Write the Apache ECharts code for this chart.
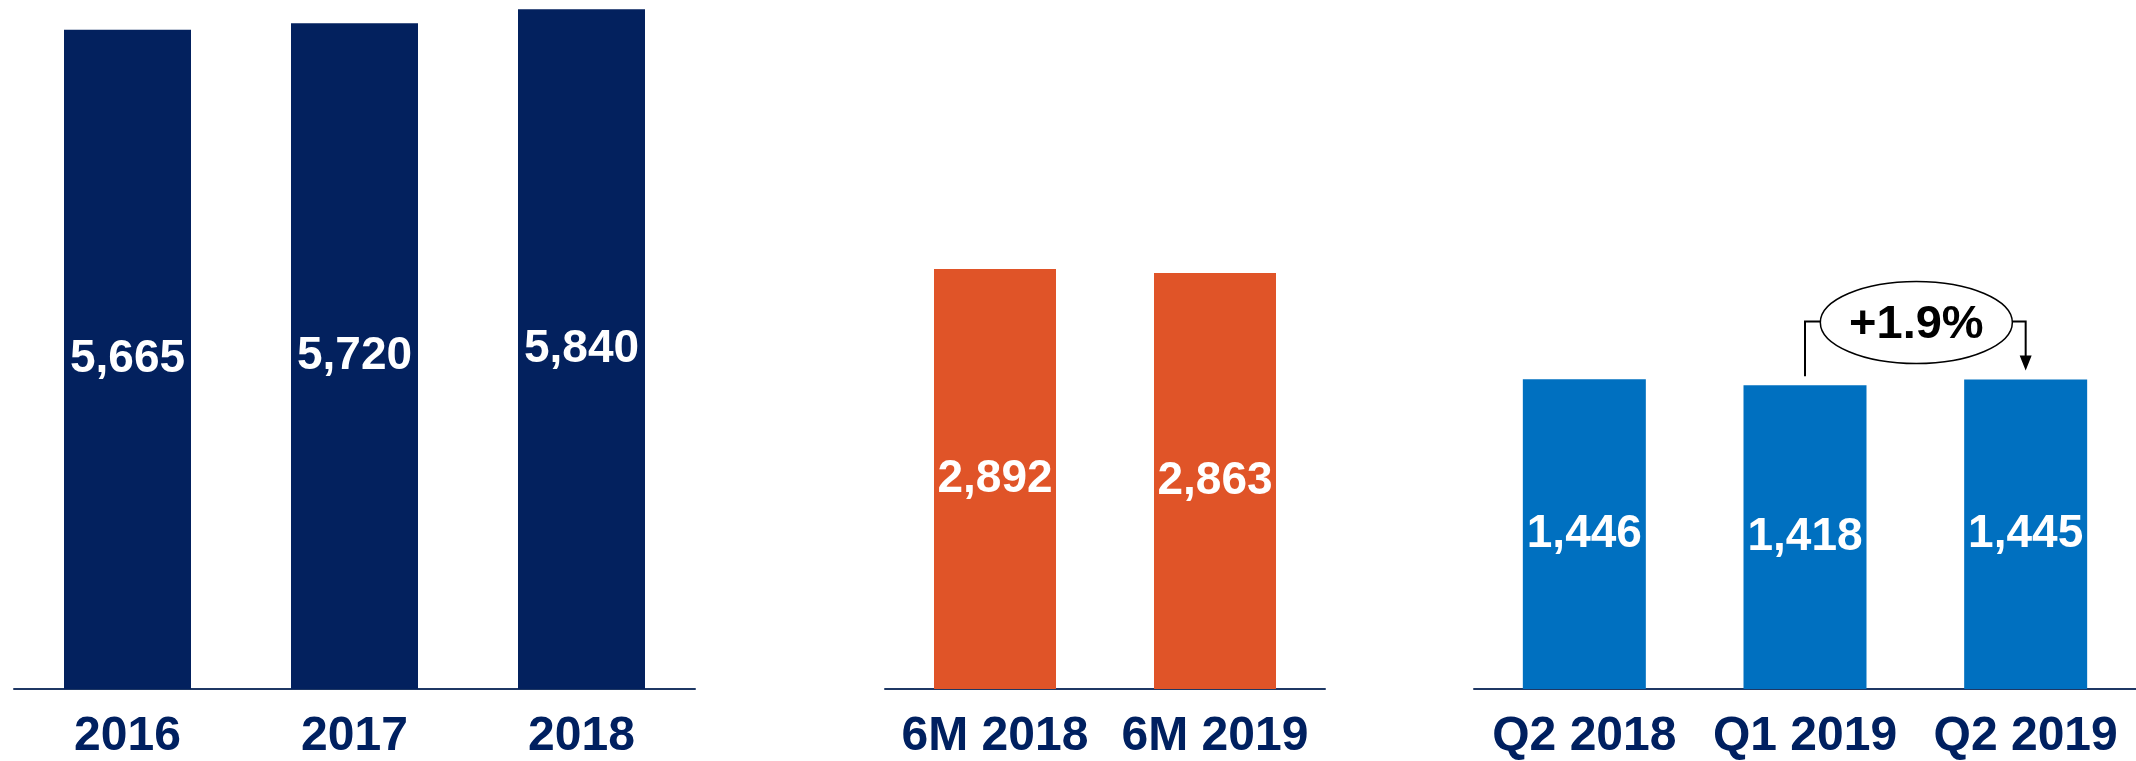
<!DOCTYPE html>
<html>
<head>
<meta charset="utf-8">
<script src="https://cdn.jsdelivr.net/npm/echarts@6/dist/echarts.min.js"></script>
<style>
  html, body { margin: 0; padding: 0; background: #ffffff; }
  #chart { width: 2136px; height: 761px; }
</style>
</head>
<body>
<div id="chart"></div>
<script>
// data
var yearCats = ['2016', '2017', '2018']
var yearVals = [5665, 5720, 5840]
var halfCats = ['6M 2018', '6M 2019']
var halfVals = [2892, 2863]
var quarterCats = ['Q2 2018', 'Q1 2019', 'Q2 2019']
var quarterVals = [1446, 1418, 1445]
var changeText = '+1.9%'

var FONT = '"Liberation Sans", Arial, sans-serif'
var NAVY = '#002060'

var myChart = echarts.init(document.getElementById('chart'))

function makeX(idx, cats) {
  return {
    type: 'category',
    gridIndex: idx,
    data: cats,
    axisLine: { show: true, lineStyle: { color: '#1F3864', width: 2 } },
    axisTick: { show: false },
    axisLabel: {
      color: NAVY,
      fontSize: 48,
      fontWeight: 'bold',
      fontFamily: FONT,
      margin: 24,
      interval: 0
    }
  }
}

function makeY(idx, max) {
  return { type: 'value', gridIndex: idx, min: 0, max: max, show: false }
}

function makeBar(idx, vals, color, width) {
  return {
    type: 'bar',
    xAxisIndex: idx,
    yAxisIndex: idx,
    data: vals,
    barWidth: width,
    itemStyle: { color: color },
    silent: true,
    label: {
      show: true,
      position: 'inside',
      color: '#ffffff',
      fontSize: 46,
      fontWeight: 'bold',
      fontFamily: FONT,
      formatter: function (p) {
        return p.value.toLocaleString('en-US')
      }
    }
  }
}

var option = {
  animation: false,
  backgroundColor: '#ffffff',
  grid: [
    { left: 14, width: 681, top: 0, height: 692 },
    { left: 885, width: 440, top: 0, height: 692 },
    { left: 1474, width: 664, top: 0, height: 692 }
  ],
  xAxis: [makeX(0, yearCats), makeX(1, halfCats), makeX(2, quarterCats)],
  yAxis: [makeY(0, 5920), makeY(1, 4743), makeY(2, 3217)],
  series: [
    makeBar(0, yearVals, '#03215E', 127),
    makeBar(1, halfVals, '#E05428', 122),
    makeBar(2, quarterVals, '#0070C0', 123)
  ]
}
myChart.setOption(option)

// bracket with the change between Q1 2019 and Q2 2019
var p1 = myChart.convertToPixel({ gridIndex: 2 }, [quarterCats[1], quarterVals[1]])
var p2 = myChart.convertToPixel({ gridIndex: 2 }, [quarterCats[2], quarterVals[2]])
var bracketY = Math.min(p1[1], p2[1]) - 58
var midX = (p1[0] + p2[0]) / 2 + 1
var tipY = p2[1] - 9

myChart.setOption({
  graphic: [
    {
      type: 'polyline',
      shape: { points: [[p1[0], p1[1] - 9], [p1[0], bracketY], [p2[0], bracketY], [p2[0], tipY - 14]] },
      style: { stroke: '#000000', lineWidth: 2, fill: null }
    },
    {
      type: 'polygon',
      shape: { points: [[p2[0] - 6, tipY - 15], [p2[0] + 6, tipY - 15], [p2[0], tipY]] },
      style: { fill: '#000000' }
    },
    {
      type: 'ellipse',
      shape: { cx: midX, cy: bracketY + 1, rx: 96, ry: 41 },
      style: { fill: '#ffffff', stroke: '#000000', lineWidth: 1.5 }
    },
    {
      type: 'text',
      x: midX,
      y: bracketY + 4,
      style: {
        text: changeText,
        fill: '#000000',
        font: 'bold 47px ' + FONT,
        align: 'center',
        verticalAlign: 'middle'
      }
    }
  ]
})
</script>
</body>
</html>
